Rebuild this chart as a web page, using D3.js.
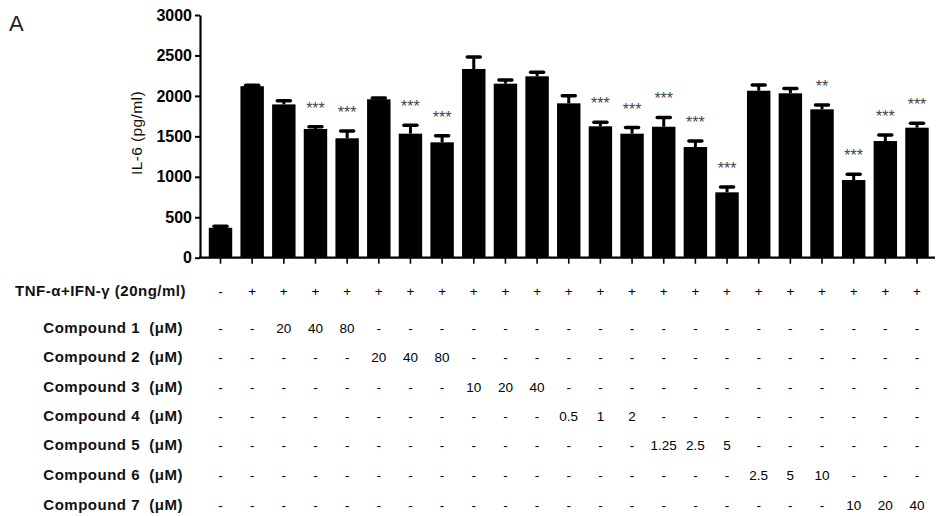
<!DOCTYPE html>
<html>
<head>
<meta charset="utf-8">
<script src="https://cdn.jsdelivr.net/npm/d3@7"></script>
<style>
  html, body { margin: 0; padding: 0; background: #fff; }
  svg { display: block; }
  text { font-family: "Liberation Sans", Arial, sans-serif; }
</style>
</head>
<body>
<svg id="chart" width="940" height="516"></svg>
<script>
// IL-6 release per treatment group (mean and SEM, pg/ml)
const groups = d3.range(23);
const il6Mean = [370, 2120, 1895, 1591, 1476, 1958, 1533, 1426, 2333, 2151, 2242, 1908,
                 1624, 1533, 1619, 1368, 808, 2064, 2032, 1834, 960, 1442, 1607];
const il6Sem  = [20, 12, 45, 28, 90, 15, 105, 80, 148, 45, 50, 95,
                 50, 75, 115, 75, 65, 70, 58, 55, 70, 75, 55];
const significance = ["", "", "", "***", "***", "", "***", "***", "", "", "", "",
                      "***", "***", "***", "***", "***", "", "", "**", "***", "***", "***"];
const yTicks = [0, 500, 1000, 1500, 2000, 2500, 3000];

// Treatment table below the bars
const stimulusLabel = "TNF-\u03b1+IFN-\u03b3 (20ng/ml)";
const stimulus = ["-", "+", "+", "+", "+", "+", "+", "+", "+", "+", "+", "+",
                  "+", "+", "+", "+", "+", "+", "+", "+", "+", "+", "+"];
const compoundNames = ["Compound 1", "Compound 2", "Compound 3", "Compound 4",
                       "Compound 5", "Compound 6", "Compound 7"];
const compoundDoses = [
  ["20", "40", "80"],
  ["20", "40", "80"],
  ["10", "20", "40"],
  ["0.5", "1", "2"],
  ["1.25", "2.5", "5"],
  ["2.5", "5", "10"],
  ["10", "20", "40"]
];

const svg = d3.select("#chart");

const x = d3.scalePoint().domain(groups).range([220.5, 917]);
const barW = x.step() * 0.74;
const y = d3.scaleLinear().domain([0, 3000]).range([257.7, 15]);
const axisX = 200;

// panel letter
svg.append("text").attr("x", 9).attr("y", 31)
  .attr("font-size", 22).attr("fill", "#222").text("A");

// bars
svg.append("g").selectAll("rect").data(groups).join("rect")
  .attr("x", i => x(i) - barW / 2)
  .attr("y", i => y(il6Mean[i]))
  .attr("width", barW)
  .attr("height", i => y(0) - y(il6Mean[i]))
  .attr("fill", "#000");

// upper error bars
const err = svg.append("g");
err.selectAll("line.stem").data(groups).join("line")
  .attr("class", "stem")
  .attr("x1", i => x(i)).attr("x2", i => x(i))
  .attr("y1", i => y(il6Mean[i]))
  .attr("y2", i => y(il6Mean[i] + il6Sem[i]))
  .attr("stroke", "#000").attr("stroke-width", 3);
err.selectAll("line.cap").data(groups).join("line")
  .attr("class", "cap")
  .attr("x1", i => x(i) - 6.5).attr("x2", i => x(i) + 6.5)
  .attr("y1", i => y(il6Mean[i] + il6Sem[i]))
  .attr("y2", i => y(il6Mean[i] + il6Sem[i]))
  .attr("stroke", "#000").attr("stroke-width", 3.5).attr("stroke-linecap", "round");

// significance stars
svg.append("g").selectAll("text").data(groups.filter(i => significance[i]))
  .join("text")
  .attr("x", i => x(i))
  .attr("y", i => y(il6Mean[i] + il6Sem[i]) - 13)
  .attr("text-anchor", "middle")
  .attr("font-size", 16).attr("fill", "#444")
  .text(i => significance[i]);

// y axis
const yAxis = svg.append("g")
  .attr("transform", `translate(${axisX},0)`)
  .call(d3.axisLeft(y).tickValues(yTicks).tickFormat(d3.format("d"))
    .tickSize(5).tickPadding(3).tickSizeOuter(0));
yAxis.select(".domain").attr("stroke", "#000").attr("stroke-width", 2.2);
yAxis.selectAll(".tick line").attr("stroke", "#000").attr("stroke-width", 2);
yAxis.selectAll(".tick text")
  .attr("font-family", "'Liberation Sans', Arial, sans-serif")
  .attr("font-size", 16).attr("font-weight", "bold").attr("fill", "#000");

// x axis baseline with group ticks
const xAxis = svg.append("g").attr("transform", `translate(0,${y(0)})`);
xAxis.append("line")
  .attr("x1", axisX - 1).attr("x2", 935)
  .attr("stroke", "#000").attr("stroke-width", 2.2);
xAxis.selectAll("line.tick").data(groups).join("line")
  .attr("class", "tick")
  .attr("x1", i => x(i)).attr("x2", i => x(i))
  .attr("y1", 0).attr("y2", 6)
  .attr("stroke", "#000").attr("stroke-width", 1.6);

// y axis title
svg.append("text")
  .attr("transform", "translate(142,133) rotate(-90)")
  .attr("text-anchor", "middle")
  .attr("font-size", 15.5).attr("letter-spacing", 0.4).attr("fill", "#111")
  .text("IL-6 (pg/ml)");

// treatment table
const table = svg.append("g");
const rowY = [291, 328, 357, 387, 416, 445, 475, 505];

table.append("text")
  .attr("x", 186).attr("y", rowY[0]).attr("dy", "0.35em")
  .attr("text-anchor", "end").attr("font-size", 15).attr("font-weight", "bold")
  .attr("letter-spacing", 0.5).attr("fill", "#111").text(stimulusLabel);
table.append("g").selectAll("text").data(groups).join("text")
  .attr("x", i => x(i)).attr("y", rowY[0]).attr("dy", "0.35em")
  .attr("text-anchor", "middle").attr("font-size", 13.5).attr("fill", "#000")
  .text(i => stimulus[i]);

compoundNames.forEach((name, k) => {
  const cells = groups.map(i => {
    const j = i - 2 - 3 * k;
    return (j >= 0 && j < 3) ? compoundDoses[k][j] : "-";
  });
  table.append("text")
    .attr("x", 183).attr("y", rowY[k + 1]).attr("dy", "0.35em")
    .attr("text-anchor", "end").attr("font-size", 15).attr("font-weight", "bold")
    .attr("letter-spacing", 0.5).attr("fill", "#111").attr("xml:space", "preserve")
    .text(name + "  (\u03bcM)");
  table.append("g").selectAll("text").data(groups).join("text")
    .attr("x", i => x(i)).attr("y", rowY[k + 1]).attr("dy", "0.35em")
    .attr("text-anchor", "middle").attr("font-size", 13.5).attr("fill", "#000")
    .text(i => cells[i]);
});
</script>
</body>
</html>
